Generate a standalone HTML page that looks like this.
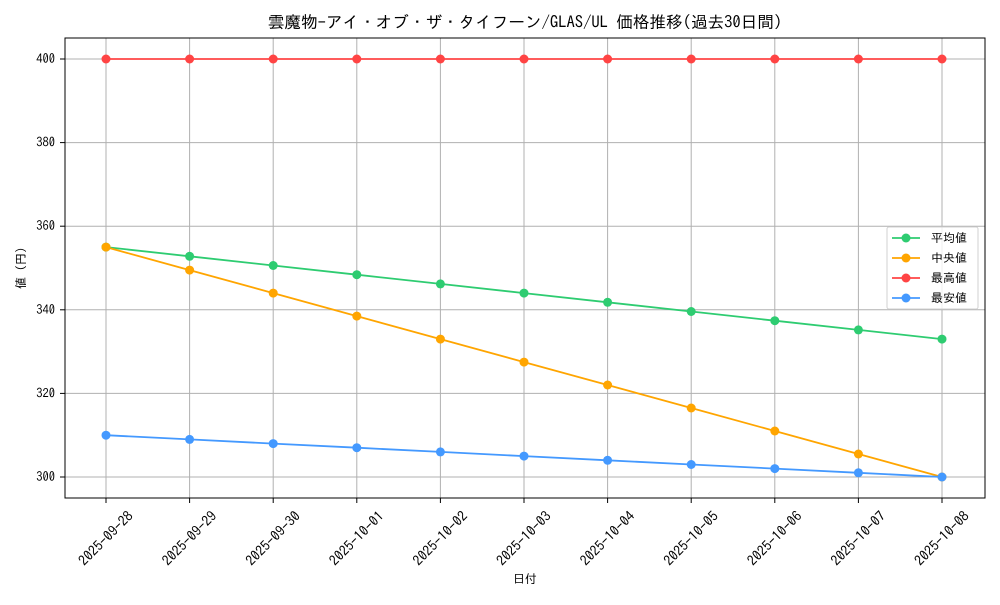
<!DOCTYPE html>
<html><head><meta charset="utf-8"><style>
html,body{margin:0;padding:0;background:#fff}
svg text{font-family:"IPAGothic","Liberation Sans","Noto Sans CJK JP",sans-serif;fill:#000}
</style></head><body>
<svg width="1000" height="600" xmlns="http://www.w3.org/2000/svg">
<rect width="1000" height="600" fill="#fff"/>
<text x="525" y="28" font-size="16.6" text-anchor="middle">雲魔物-アイ・オブ・ザ・タイフーン/GLAS/UL 価格推移(過去30日間)</text>
<g stroke="#b0b0b0" stroke-width="1">
<line x1="106" y1="38" x2="106" y2="498"/><line x1="189.6" y1="38" x2="189.6" y2="498"/><line x1="273.2" y1="38" x2="273.2" y2="498"/><line x1="356.8" y1="38" x2="356.8" y2="498"/><line x1="440.4" y1="38" x2="440.4" y2="498"/><line x1="524" y1="38" x2="524" y2="498"/><line x1="607.6" y1="38" x2="607.6" y2="498"/><line x1="691.2" y1="38" x2="691.2" y2="498"/><line x1="774.8" y1="38" x2="774.8" y2="498"/><line x1="858.4" y1="38" x2="858.4" y2="498"/><line x1="942" y1="38" x2="942" y2="498"/>
<line x1="65" y1="477" x2="985" y2="477"/><line x1="65" y1="393.4" x2="985" y2="393.4"/><line x1="65" y1="309.8" x2="985" y2="309.8"/><line x1="65" y1="226.2" x2="985" y2="226.2"/><line x1="65" y1="142.6" x2="985" y2="142.6"/><line x1="65" y1="59" x2="985" y2="59"/>
</g>
<g stroke="#000" stroke-width="1">
<line x1="106" y1="498" x2="106" y2="503"/><line x1="189.6" y1="498" x2="189.6" y2="503"/><line x1="273.2" y1="498" x2="273.2" y2="503"/><line x1="356.8" y1="498" x2="356.8" y2="503"/><line x1="440.4" y1="498" x2="440.4" y2="503"/><line x1="524" y1="498" x2="524" y2="503"/><line x1="607.6" y1="498" x2="607.6" y2="503"/><line x1="691.2" y1="498" x2="691.2" y2="503"/><line x1="774.8" y1="498" x2="774.8" y2="503"/><line x1="858.4" y1="498" x2="858.4" y2="503"/><line x1="942" y1="498" x2="942" y2="503"/>
<line x1="60" y1="477" x2="65" y2="477"/><line x1="60" y1="393.4" x2="65" y2="393.4"/><line x1="60" y1="309.8" x2="65" y2="309.8"/><line x1="60" y1="226.2" x2="65" y2="226.2"/><line x1="60" y1="142.6" x2="65" y2="142.6"/><line x1="60" y1="59" x2="65" y2="59"/>
</g>
<g font-size="12.5" text-anchor="end">
<text x="55" y="481">300</text><text x="55" y="397.4">320</text><text x="55" y="313.8">340</text><text x="55" y="230.2">360</text><text x="55" y="146.6">380</text><text x="55" y="63">400</text>
</g>
<g font-size="14" text-anchor="end">
<text transform="translate(134,517) rotate(-45)">2025-09-28</text>
<text transform="translate(217.6,517) rotate(-45)">2025-09-29</text>
<text transform="translate(301.2,517) rotate(-45)">2025-09-30</text>
<text transform="translate(384.8,517) rotate(-45)">2025-10-01</text>
<text transform="translate(468.4,517) rotate(-45)">2025-10-02</text>
<text transform="translate(552,517) rotate(-45)">2025-10-03</text>
<text transform="translate(635.6,517) rotate(-45)">2025-10-04</text>
<text transform="translate(719.2,517) rotate(-45)">2025-10-05</text>
<text transform="translate(802.8,517) rotate(-45)">2025-10-06</text>
<text transform="translate(886.4,517) rotate(-45)">2025-10-07</text>
<text transform="translate(970,517) rotate(-45)">2025-10-08</text>
</g>
<text x="525" y="583" font-size="12" text-anchor="middle">日付</text>
<text transform="translate(25,268) rotate(-90)" font-size="12" text-anchor="middle">値 (円)</text>
<g fill="none" stroke-width="1.8">
<polyline stroke="#ff4444" points="106,59 942,59"/>
<polyline stroke="#2ecc71" points="106,247.1 189.6,256.3 273.2,265.5 356.8,274.7 440.4,283.9 524,293.1 607.6,302.3 691.2,311.5 774.8,320.7 858.4,329.9 942,339.1"/>
<polyline stroke="#ffa500" points="106,247.1 189.6,270.1 273.2,293.1 356.8,316.1 440.4,339.1 524,362.1 607.6,385 691.2,408 774.8,431 858.4,454 942,477"/>
<polyline stroke="#4499ff" points="106,435.2 189.6,439.4 273.2,443.6 356.8,447.7 440.4,451.9 524,456.1 607.6,460.3 691.2,464.5 774.8,468.6 858.4,472.8 942,477"/>
</g>
<g fill="#ff4444"><circle cx="106" cy="59" r="4.5"/><circle cx="189.6" cy="59" r="4.5"/><circle cx="273.2" cy="59" r="4.5"/><circle cx="356.8" cy="59" r="4.5"/><circle cx="440.4" cy="59" r="4.5"/><circle cx="524" cy="59" r="4.5"/><circle cx="607.6" cy="59" r="4.5"/><circle cx="691.2" cy="59" r="4.5"/><circle cx="774.8" cy="59" r="4.5"/><circle cx="858.4" cy="59" r="4.5"/><circle cx="942" cy="59" r="4.5"/></g>
<g fill="#2ecc71"><circle cx="106" cy="247.1" r="4.5"/><circle cx="189.6" cy="256.3" r="4.5"/><circle cx="273.2" cy="265.5" r="4.5"/><circle cx="356.8" cy="274.7" r="4.5"/><circle cx="440.4" cy="283.9" r="4.5"/><circle cx="524" cy="293.1" r="4.5"/><circle cx="607.6" cy="302.3" r="4.5"/><circle cx="691.2" cy="311.5" r="4.5"/><circle cx="774.8" cy="320.7" r="4.5"/><circle cx="858.4" cy="329.9" r="4.5"/><circle cx="942" cy="339.1" r="4.5"/></g>
<g fill="#ffa500"><circle cx="106" cy="247.1" r="4.5"/><circle cx="189.6" cy="270.1" r="4.5"/><circle cx="273.2" cy="293.1" r="4.5"/><circle cx="356.8" cy="316.1" r="4.5"/><circle cx="440.4" cy="339.1" r="4.5"/><circle cx="524" cy="362.1" r="4.5"/><circle cx="607.6" cy="385" r="4.5"/><circle cx="691.2" cy="408" r="4.5"/><circle cx="774.8" cy="431" r="4.5"/><circle cx="858.4" cy="454" r="4.5"/><circle cx="942" cy="477" r="4.5"/></g>
<g fill="#4499ff"><circle cx="106" cy="435.2" r="4.5"/><circle cx="189.6" cy="439.4" r="4.5"/><circle cx="273.2" cy="443.6" r="4.5"/><circle cx="356.8" cy="447.7" r="4.5"/><circle cx="440.4" cy="451.9" r="4.5"/><circle cx="524" cy="456.1" r="4.5"/><circle cx="607.6" cy="460.3" r="4.5"/><circle cx="691.2" cy="464.5" r="4.5"/><circle cx="774.8" cy="468.6" r="4.5"/><circle cx="858.4" cy="472.8" r="4.5"/><circle cx="942" cy="477" r="4.5"/></g>
<rect x="65" y="38" width="920" height="460" fill="none" stroke="#000" stroke-width="1"/>
<rect x="887" y="227" width="91" height="82" rx="2" fill="#fff" fill-opacity="0.8" stroke="#d0d0d0"/>
<g stroke-width="1.8">
<line x1="892" y1="238" x2="920" y2="238" stroke="#2ecc71"/><circle cx="906" cy="238" r="4.5" fill="#2ecc71"/>
<line x1="892" y1="258" x2="920" y2="258" stroke="#ffa500"/><circle cx="906" cy="258" r="4.5" fill="#ffa500"/>
<line x1="892" y1="278" x2="920" y2="278" stroke="#ff4444"/><circle cx="906" cy="278" r="4.5" fill="#ff4444"/>
<line x1="892" y1="298" x2="920" y2="298" stroke="#4499ff"/><circle cx="906" cy="298" r="4.5" fill="#4499ff"/>
</g>
<g font-size="12">
<text x="931" y="242">平均値</text><text x="931" y="262">中央値</text><text x="931" y="282">最高値</text><text x="931" y="302">最安値</text>
</g>
</svg>
</body></html>
